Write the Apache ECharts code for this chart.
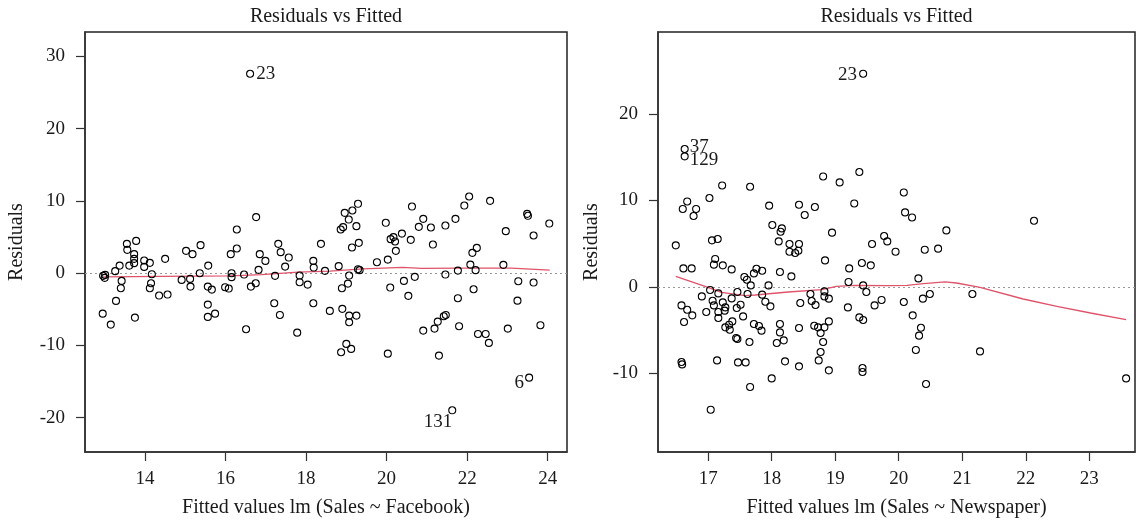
<!DOCTYPE html>
<html><head><meta charset="utf-8">
<script src="https://cdn.jsdelivr.net/npm/echarts@6/dist/echarts.min.js"></script>
<style>html,body{margin:0;padding:0;background:#fff}#c{width:1136px;height:524px}</style>
</head><body><div id="c"></div>
<script>
// ---------- DATA ----------
const panelTitles = ['Residuals vs Fitted', 'Residuals vs Fitted'];
const xNames = ['Fitted values lm (Sales ~ Facebook)', 'Fitted values lm (Sales ~ Newspaper)'];
const yName = 'Residuals';

const fbXTicks = [14, 16, 18, 20, 22, 24];
const fbYTicks = [-20, -10, 0, 10, 20, 30];
const npXTicks = [17, 18, 19, 20, 21, 22, 23];
const npYTicks = [-10, 0, 10, 20];

// Facebook model: [fitted, residual]
const fbPoints = [
[12.96,-0.37],[13.00,-0.65],[13.01,-0.24],[12.95,-5.60],[13.15,-7.12],[13.28,-3.84],[13.26,0.28],[13.37,1.05],[13.42,-1.07],[13.40,-2.08],
[13.55,4.06],[13.56,3.23],[13.61,1.05],[13.73,2.63],[13.73,1.98],[13.73,1.39],[13.78,4.47],[13.75,-6.15],[13.98,1.75],[13.98,0.87],
[14.12,1.43],[14.17,-0.14],[14.15,-1.39],[14.12,-2.08],[14.35,-3.10],[14.50,1.98],[14.56,-2.96],[14.91,-0.93],[15.02,3.09],[15.18,2.63],
[15.12,-0.79],[15.13,-1.86],[15.38,3.88],[15.36,0.00],[15.56,-1.86],[15.66,-2.27],[15.57,1.05],[15.56,-4.35],[15.56,-6.05],[15.74,-5.60],
[15.99,-1.94],[16.08,-2.13],[16.13,2.63],[16.28,3.41],[16.28,6.04],[16.15,0.00],[16.15,-0.55],[16.51,-7.76],[16.46,-0.19],[16.76,7.76],
[16.85,2.63],[16.99,1.70],[16.82,0.46],[16.75,-1.39],[16.63,-1.86],[17.21,-4.16],[17.35,-5.78],[17.23,-0.37],[17.31,4.06],[17.37,2.91],
[17.57,2.16],[17.48,0.91],[17.84,-0.33],[17.84,-1.25],[18.04,-1.58],[17.78,-8.23],[18.18,-4.16],[18.18,1.70],[18.19,0.78],[18.37,4.06],
[18.47,0.32],[18.59,-5.22],[18.81,0.97],[18.90,-4.94],[19.07,-5.87],[19.07,-6.79],[19.25,-5.87],[19.00,-9.79],[18.87,-10.94],[19.12,-10.48],
[18.89,-2.08],[19.04,-1.44],[19.07,-0.33],[19.29,0.55],[19.33,0.42],[19.14,3.55],[19.31,4.20],[19.25,6.51],[18.86,6.04],[18.92,6.37],
[18.96,8.35],[19.06,7.42],[19.15,8.67],[19.29,9.60],[19.76,1.52],[19.98,6.97],[20.03,1.88],[20.09,-1.99],[20.10,4.71],[20.17,4.99],
[20.21,4.38],[20.23,3.09],[20.38,5.48],[20.54,-3.14],[20.43,-1.07],[20.63,9.22],[20.60,4.61],[20.70,-0.51],[20.80,6.41],[20.91,7.52],
[21.10,6.32],[21.15,3.96],[20.91,-7.95],[21.19,-7.67],[21.27,-6.70],[21.42,-5.96],[21.47,-5.78],[21.30,-11.41],[21.46,-0.19],[21.46,6.59],
[21.71,7.52],[21.77,0.36],[21.77,-3.46],[21.80,-7.34],[21.93,9.36],[22.05,10.61],[22.57,10.01],[22.13,2.81],[22.24,3.50],[22.08,1.19],
[22.21,0.42],[22.16,-2.22],[22.27,-8.41],[22.46,-8.41],[22.54,-9.65],[22.90,1.15],[22.96,5.82],[23.01,-7.67],[23.25,-3.80],[23.27,-1.11],
[23.49,8.21],[23.51,7.94],[23.65,5.21],[23.65,-1.30],[23.82,-7.20],[24.04,6.87],[20.03,-11.14]
];
const fbOutliers = [[16.61,27.60,'23'],[23.54,-14.46,'6'],[21.63,-18.98,'131']];
const fbSmooth = [[12.96,-0.51],[14.41,-0.44],[16.11,-0.37],[16.90,-0.19],[17.80,0.14],[18.59,0.28],[19.41,0.60],[20.40,0.80],[20.87,0.66],[21.82,0.71],[23.10,0.69],[23.13,0.46],[24.05,0.43]];

// Newspaper model: [fitted, residual]
const npPoints = [
[17.22,11.73],[17.66,11.58],[17.02,10.28],[16.67,9.88],[16.60,9.01],[16.81,9.01],[16.77,8.20],[16.49,4.80],[17.06,5.38],[17.15,5.54],
[16.61,2.14],[16.74,2.14],[17.11,3.23],[17.09,2.57],[17.23,2.49],[17.37,2.02],[17.96,9.39],[18.01,7.16],[18.16,6.76],[18.14,6.38],
[18.11,5.26],[18.28,4.96],[18.43,4.96],[18.28,4.07],[18.37,3.92],[18.42,4.18],[18.43,9.50],[18.52,8.31],[18.68,9.24],[18.81,12.77],
[19.07,12.08],[19.38,13.28],[19.30,9.65],[18.95,6.27],[18.84,3.06],[19.22,2.14],[19.21,0.57],[19.42,2.76],[19.56,2.49],[19.58,4.96],
[19.77,5.88],[19.82,5.26],[19.95,4.07],[18.13,1.72],[18.31,1.21],[17.76,2.10],[17.85,1.87],[17.72,1.56],[17.57,1.14],[17.61,0.83],
[17.67,0.17],[17.95,0.17],[17.46,-0.59],[17.62,-0.82],[17.03,-0.36],[16.90,-1.10],[16.58,-2.14],[16.67,-2.64],[16.75,-3.29],[16.62,-4.06],
[17.07,-1.60],[17.09,-2.14],[17.16,-0.75],[17.16,-2.90],[17.16,-3.60],[16.97,-2.90],[17.23,-1.79],[17.27,-2.37],[17.26,-2.75],[17.37,-1.33],
[17.45,-2.44],[17.51,-2.06],[17.55,-3.41],[17.33,-4.37],[17.38,-3.99],[17.27,-4.68],[17.34,-4.95],[17.44,-5.91],[17.46,-6.02],[17.65,-6.37],
[17.72,-4.29],[17.80,-4.52],[17.84,-5.06],[17.85,-0.90],[17.90,-1.71],[17.98,-2.25],[18.13,-4.29],[18.13,-5.26],[18.19,-6.18],[18.08,-6.49],
[18.21,-8.61],[18.00,-10.58],[17.66,-11.57],[18.43,-4.75],[18.43,-9.19],[18.45,-1.86],[18.61,-0.82],[18.63,-1.63],[18.69,-2.09],[18.67,-4.49],
[18.73,-4.68],[18.77,-5.33],[18.83,-4.68],[18.90,-3.99],[18.81,-6.37],[18.77,-7.53],[18.74,-8.50],[18.90,-9.65],[18.83,-0.52],[18.83,-1.10],
[18.90,-1.36],[19.20,-2.37],[19.38,-3.53],[19.44,-3.83],[19.44,0.17],[19.49,-0.59],[19.62,-2.14],[19.73,-1.51],[19.43,-9.38],[19.43,-9.84],
[16.58,-8.68],[16.59,-8.96],[17.14,-8.50],[17.47,-8.73],[17.59,-8.73],[17.04,-14.20],
[20.08,10.92],[20.10,8.61],[20.21,8.03],[20.75,6.53],[20.41,4.30],[20.62,4.42],[22.13,7.65],[20.31,0.98],[20.08,-1.75],[20.38,-1.36],
[20.49,-0.82],[21.16,-0.82],[20.22,-3.29],[20.35,-4.72],[20.32,-5.64],[20.27,-7.29],[21.28,-7.46],[20.43,-11.23],[23.58,-10.58]
];
const npOutliers = [[19.44,24.65,'23'],[16.63,15.94,'37'],[16.63,15.09,'129']];
const npSmooth = [[16.49,1.21],[16.95,0.06],[17.21,-0.64],[17.58,-1.02],[17.74,-0.94],[18.26,-0.59],[18.79,-0.32],[19.02,0.06],[19.31,0.17],[19.86,0.14],[20.13,0.17],[20.39,0.37],[20.73,0.57],[20.91,0.45],[21.28,-0.06],[21.96,-1.40],[22.49,-2.25],[23.02,-3.02],[23.58,-3.79]];

// ---------- STYLE / LAYOUT ----------
const FONT = '"Liberation Serif", "Times New Roman", serif';
const TXT = '#1a1a1a';
const RED = '#DF536B';
const grids = [
  {left: 85, top: 32, width: 482, height: 420},
  {left: 658, top: 32, width: 477, height: 420}
];
const xRanges = [[12.51, 24.48], [16.21, 23.72]];
const yRanges = [[-24.75, 33.38], [-19.09, 29.47]];
const xTicks = [fbXTicks, npXTicks];
const yTicks = [fbYTicks, npYTicks];

// label placement for identified points (style only)
const labelStyle = {
  '0-23': {position: 'right', distance: 2, offset: [0, 0]},
  '0-6': {position: 'left', distance: 1, offset: [0, 5]},
  '0-131': {position: 'left', distance: 1, offset: [5, 12]},
  '1-23': {position: 'left', distance: 2, offset: [0, 1]},
  '1-37': {position: 'right', distance: 1, offset: [0, -2]},
  '1-129': {position: 'right', distance: 1, offset: [0, 4]}
};

function xAxis(i) {
  return {
    type: 'value', gridIndex: i, min: xRanges[i][0], max: xRanges[i][1],
    name: xNames[i], nameLocation: 'middle', nameGap: 46,
    nameTextStyle: {fontFamily: FONT, fontSize: 20, color: TXT},
    axisLine: {show: true, onZero: false, lineStyle: {color: '#333', width: 1.5}},
    axisTick: {show: true, length: 9, customValues: xTicks[i], lineStyle: {color: '#333', width: 1.2}},
    axisLabel: {customValues: xTicks[i], margin: 18, fontFamily: FONT, fontSize: 19, color: TXT},
    splitLine: {show: false}
  };
}
function yAxis(i) {
  return {
    type: 'value', gridIndex: i, min: yRanges[i][0], max: yRanges[i][1],
    name: yName, nameLocation: 'middle', nameGap: i === 0 ? 58 : 56, nameRotate: 90,
    nameTextStyle: {fontFamily: FONT, fontSize: 20, color: TXT},
    axisLine: {show: true, onZero: false, lineStyle: {color: '#333', width: 1.5}},
    axisTick: {show: true, length: 9, customValues: yTicks[i], lineStyle: {color: '#333', width: 1.2}},
    axisLabel: {customValues: yTicks[i], margin: 20, fontFamily: FONT, fontSize: 19, color: TXT},
    splitLine: {show: false}
  };
}

const pointStyle = {color: 'rgba(0,0,0,0)', borderColor: '#000', borderWidth: 1.1, opacity: 1};
const allPoints = [fbPoints, npPoints];
const allOutliers = [fbOutliers, npOutliers];
const allSmooth = [fbSmooth, npSmooth];

const series = [];
[0, 1].forEach(i => {
  series.push({
    type: 'line', xAxisIndex: i, yAxisIndex: i, data: allSmooth[i],
    showSymbol: false, symbol: 'none', silent: true,
    lineStyle: {color: RED, width: 1.3}, z: 3,
    markLine: {
      silent: true, symbol: ['none', 'none'], label: {show: false},
      lineStyle: {color: '#9a9a9a', type: [2, 3], width: 1},
      data: [{yAxis: 0}], z: 1
    }
  });
  series.push({
    type: 'scatter', xAxisIndex: i, yAxisIndex: i, data: allPoints[i],
    symbol: 'circle', symbolSize: 7, itemStyle: pointStyle, silent: true, z: 4
  });
  series.push({
    type: 'scatter', xAxisIndex: i, yAxisIndex: i, symbol: 'circle', symbolSize: 7,
    itemStyle: pointStyle, silent: true, z: 4,
    data: allOutliers[i].map(o => {
      const st = labelStyle[i + '-' + o[2]];
      return {
        value: [o[0], o[1]],
        label: {show: true, formatter: o[2], position: st.position, distance: st.distance,
                offset: st.offset, fontFamily: FONT, fontSize: 19, color: TXT, opacity: 1}
      };
    })
  });
});

const chart = echarts.init(document.getElementById('c'), null, {renderer: 'canvas'});
chart.setOption({
  animation: false,
  backgroundColor: '#fff',
  grid: grids.map(g => Object.assign({show: true, borderColor: '#222', borderWidth: 1.5, backgroundColor: 'transparent'}, g)),
  xAxis: [xAxis(0), xAxis(1)],
  yAxis: [yAxis(0), yAxis(1)],
  graphic: panelTitles.map((t, i) => ({
    type: 'text', x: grids[i].left + grids[i].width / 2, y: 17,
    style: {text: t, fontFamily: FONT, fontSize: 20, fill: TXT, textAlign: 'center', textVerticalAlign: 'middle'}
  })),
  series: series
});
</script></body></html>
